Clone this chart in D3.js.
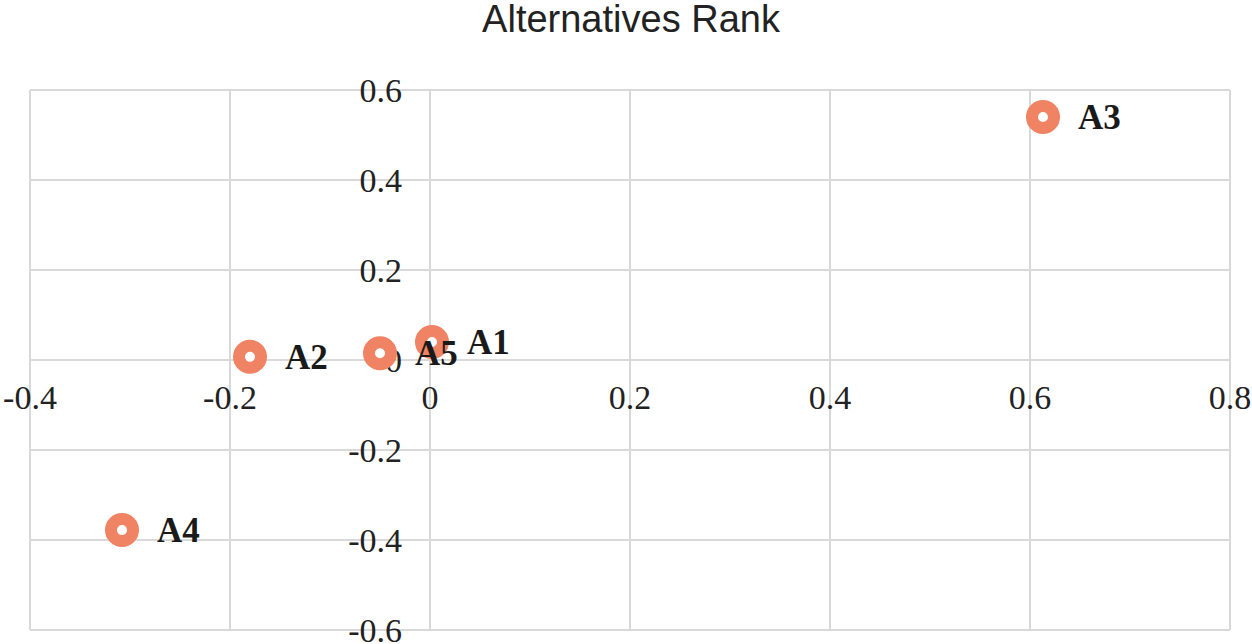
<!DOCTYPE html>
<html>
<head>
<meta charset="utf-8">
<script src="https://cdn.jsdelivr.net/npm/d3@7"></script>
<style>
  body { margin: 0; background: #fff; }
  .grid line { stroke: #d9d9d9; stroke-width: 2; }
  .tick-label { font-family: "Liberation Serif", "Times New Roman", serif; font-size: 34px; fill: #222; }
  .pt-label { font-family: "Liberation Serif", "Times New Roman", serif; font-size: 35px; font-weight: bold; fill: #1a1a1a; }
  .title { font-family: "Liberation Sans", Arial, sans-serif; font-size: 38px; fill: #222; }
</style>
</head>
<body>
<div id="chart"></div>
<script>
// alternatives and their coordinates
const names = ["A1", "A2", "A3", "A4", "A5"];
const xVals = [0.002, -0.18, 0.613, -0.308, -0.05];
const yVals = [0.04, 0.007, 0.54, -0.378, 0.015];

const xTicks = [-0.4, -0.2, 0, 0.2, 0.4, 0.6, 0.8];
const yTicks = [-0.6, -0.4, -0.2, 0, 0.2, 0.4, 0.6];

const width = 1252, height = 644;
const plot = { left: 30, right: 1230, top: 90, bottom: 630 };

const svg = d3.select('#chart')
  .append('svg')
  .attr('width', width)
  .attr('height', height);

const x = d3.scaleLinear().domain([-0.4, 0.8]).range([plot.left, plot.right]);
const y = d3.scaleLinear().domain([-0.6, 0.6]).range([plot.bottom, plot.top]);

// plain hyphen for negatives, like the original
const fmt = d => d === 0 ? "0" : d3.format(".1f")(d).replace('\u2212', '-');

// grid lines
const grid = svg.append('g').attr('class', 'grid');
grid.selectAll('line.v')
  .data(xTicks)
  .enter().append('line')
  .attr('x1', d => x(d)).attr('x2', d => x(d))
  .attr('y1', plot.top).attr('y2', plot.bottom);
grid.selectAll('line.h')
  .data(yTicks)
  .enter().append('line')
  .attr('y1', d => y(d)).attr('y2', d => y(d))
  .attr('x1', plot.left).attr('x2', plot.right);

// x tick labels sit under the y=0 line
svg.append('g').selectAll('text')
  .data(xTicks)
  .enter().append('text')
  .attr('class', 'tick-label')
  .attr('text-anchor', 'middle')
  .attr('x', d => x(d))
  .attr('y', y(0) + 49)
  .text(fmt);

// y tick labels sit left of the x=0 line
svg.append('g').selectAll('text')
  .data(yTicks)
  .enter().append('text')
  .attr('class', 'tick-label')
  .attr('text-anchor', 'end')
  .attr('x', x(0) - 28)
  .attr('y', d => y(d))
  .attr('dy', '0.35em')
  .text(fmt);

// points
const pts = names.map((n, i) => ({ name: n, x: xVals[i], y: yVals[i] }));

const g = svg.append('g').selectAll('g')
  .data(pts)
  .enter().append('g')
  .attr('transform', d => `translate(${x(d.x)},${y(d.y)})`);

g.append('circle')
  .attr('r', 11)
  .attr('fill', '#fff')
  .attr('stroke', '#f08363')
  .attr('stroke-width', 12);

g.append('text')
  .attr('class', 'pt-label')
  .attr('x', 35)
  .attr('y', 12)
  .text(d => d.name);

// title
svg.append('text')
  .attr('class', 'title')
  .attr('text-anchor', 'middle')
  .attr('x', 631)
  .attr('y', 32)
  .text('Alternatives Rank');
</script>
</body>
</html>
